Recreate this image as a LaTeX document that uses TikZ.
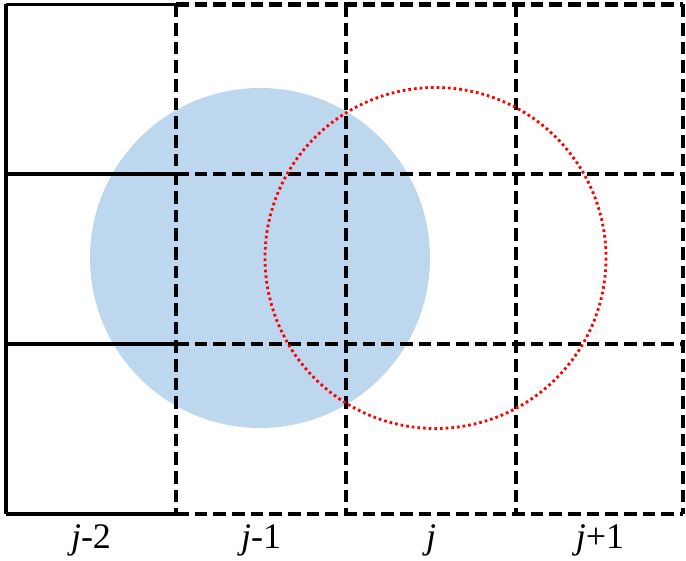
\documentclass[tikz,border=0pt]{standalone}
\usepackage{fontspec}
\setmainfont{Liberation Serif}
\usepackage{xcolor}
\usepackage{tikz}
\usetikzlibrary{positioning,calc}
\definecolor{cellblue}{HTML}{BDD7EE}
\definecolor{dotred}{HTML}{FF0000}
\tikzset{
  gridsolid/.style={
    line width=1.05pt, color=black
  },
  griddash/.style={
    line width=1.25pt, color=black, dash pattern=on 3.8pt off 1.8pt
  },
  sourcedisk/.style={
    fill=cellblue, draw=none
  },
  shifted/.style={
    draw=dotred, line width=0.85pt, dash pattern=on 0.8pt off 0.9pt
  },
  collabel/.style={
    anchor=base, inner sep=0pt, font=\fontsize{10.8}{12}\selectfont
  },
}

\begin{document}
\begin{tikzpicture}[x=0.3pt, y=-0.3pt]
  \useasboundingbox (0,0) rectangle (686,561);
  % grid corners
  \coordinate (a0) at (6,4.5);   \coordinate (a1) at (176,4.5);
  \coordinate (b0) at (6,174);   \coordinate (b1) at (176,174);
  \coordinate (c0) at (6,344);   \coordinate (c1) at (176,344);
  \coordinate (d0) at (6,514);   \coordinate (d1) at (176,514);
  \coordinate (a4) at (683,4.5); \coordinate (b4) at (683,174);
  \coordinate (c4) at (683,344); \coordinate (d4) at (683,514);
  % shaded disk
  \fill[sourcedisk] (260,258) circle (170);
  % first column, solid
  \draw[gridsolid] (a0) -- (d0);
  \foreach \r in {a,b,c,d}
    \draw[gridsolid] (\r0) -- (\r1);
  % remaining cells, dashed
  \foreach \r in {a,b,c,d}
    \draw[griddash] (\r1) -- (\r4);
  \foreach \x in {176,346,516,683}
    \draw[griddash] (\x,4.5) -- (\x,514);
  % shifted circle
  \draw[shifted] (435.5,258) circle (170.5);
  % column labels
  \node[collabel] (jm2) at (91,548) {\textit{j}-2};
  \node[collabel] (jm1) at (261,548) {\textit{j}-1};
  \node[collabel] (j0) at (431,548) {\textit{j}};
  \node[collabel] (jp1) at (600,548) {\textit{j}+1};
\end{tikzpicture}
\end{document}
